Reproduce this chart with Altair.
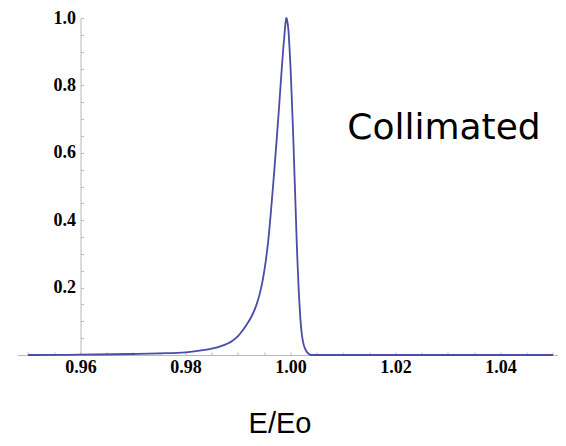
import altair as alt
import pandas as pd

# Curve (E/Eo, normalized intensity)
e_ratio = [0.9500, 0.9600, 0.9700, 0.9750, 0.9800, 0.98267, 0.98648, 0.98895, 0.9900,
           0.9908, 0.9916, 0.9926, 0.9935, 0.9942, 0.9948, 0.9953, 0.9958, 0.9963,
           0.9968, 0.9973, 0.9978, 0.9982, 0.9986, 0.9989, 0.99905, 0.9992,
           0.9994, 0.9996, 0.9998, 1.0000, 1.00025, 1.00045, 1.00067, 1.00086,
           1.00105, 1.0012, 1.00135, 1.0015, 1.00165, 1.0018, 1.0020, 1.0022,
           1.0024, 1.0026, 1.0028, 1.0030, 1.0035, 1.0040, 1.0200, 1.0500]
intensity = [0.000, 0.001, 0.003, 0.005, 0.008, 0.0128, 0.0246, 0.0424, 0.056,
             0.071, 0.089, 0.115, 0.148, 0.185, 0.230, 0.280, 0.345, 0.430,
             0.525, 0.625, 0.730, 0.820, 0.905, 0.960, 0.985, 1.000,
             0.990, 0.965, 0.915, 0.855, 0.760, 0.680, 0.579, 0.490,
             0.401, 0.330, 0.270, 0.215, 0.168, 0.128, 0.085, 0.057,
             0.038, 0.026, 0.018, 0.012, 0.003, 0.000, 0.000, 0.000]

x_major = [0.96, 0.98, 1.00, 1.02, 1.04]
x_minor = [round(0.95 + 0.005 * i, 3) for i in range(21)]
y_major = [0.2, 0.4, 0.6, 0.8, 1.0]
y_minor = [round(0.05 * i, 2) for i in range(1, 21)]

label_text = ["Collimated"]
label_x = [1.02924]
label_y = [0.641]

x_domain = [0.948, 1.05086]
y_domain = [0.0, 1.0]

W, H = 540, 337
AXIS_GREY = "#b8b8b8"

df_line = pd.DataFrame({"e": e_ratio, "i": intensity})
df_text = pd.DataFrame({"t": label_text, "e": label_x, "i": label_y})

x_scale = alt.Scale(domain=x_domain, nice=False, zero=False)
y_scale = alt.Scale(domain=y_domain, nice=False, zero=False)

line = alt.Chart(df_line).mark_line(
    color="#4b4ba8", strokeWidth=1.8, interpolate="monotone"
).encode(
    x=alt.X("e:Q", scale=x_scale, axis=alt.Axis(
        orient="bottom", values=x_major, format=".2f", ticks=False,
        domain=True, domainColor=AXIS_GREY, domainWidth=1, grid=False,
        labelFont="Liberation Serif", labelFontWeight="bold", labelFontSize=18,
        labelColor="black", labelPadding=3,
        title="E/Eo", titleFont="Liberation Sans", titleFontSize=29,
        titleFontWeight="normal", titleColor="black", titleX=262, titleY=77,
        titleAlign="center", titleBaseline="alphabetic")),
    y=alt.Y("i:Q", scale=y_scale, axis=alt.Axis(
        orient="left", values=y_major, format=".1f", ticks=False, offset=-63,
        domain=True, domainColor=AXIS_GREY, domainWidth=1, grid=False,
        labelFont="Liberation Serif", labelFontWeight="bold", labelFontSize=18,
        labelColor="black", labelPadding=5, title=None)),
)

text = alt.Chart(df_text).mark_text(
    font="DejaVu Sans", fontSize=36, color="black", align="center",
    baseline="alphabetic"
).encode(
    x=alt.X("e:Q", scale=x_scale, axis=alt.Axis(
        orient="top", values=x_minor, labels=False, domain=False, grid=False,
        ticks=True, tickSize=3, tickColor=AXIS_GREY, offset=-H, title=None)),
    y=alt.Y("i:Q", scale=y_scale, axis=alt.Axis(
        orient="right", values=y_minor, labels=False, domain=False, grid=False,
        ticks=True, tickSize=3, tickColor=AXIS_GREY, offset=-(W - 63), title=None)),
    text="t:N",
)

chart = alt.layer(line, text).resolve_scale(
    x="independent", y="independent"
).properties(
    width=W, height=H,
    autosize=alt.AutoSizeParams(type="none"),
    padding={"left": 9.5, "top": 10, "right": 0, "bottom": 83},
).configure_view(stroke=None)

chart.save("out.html", embed_options={"renderer": "svg", "actions": False})
